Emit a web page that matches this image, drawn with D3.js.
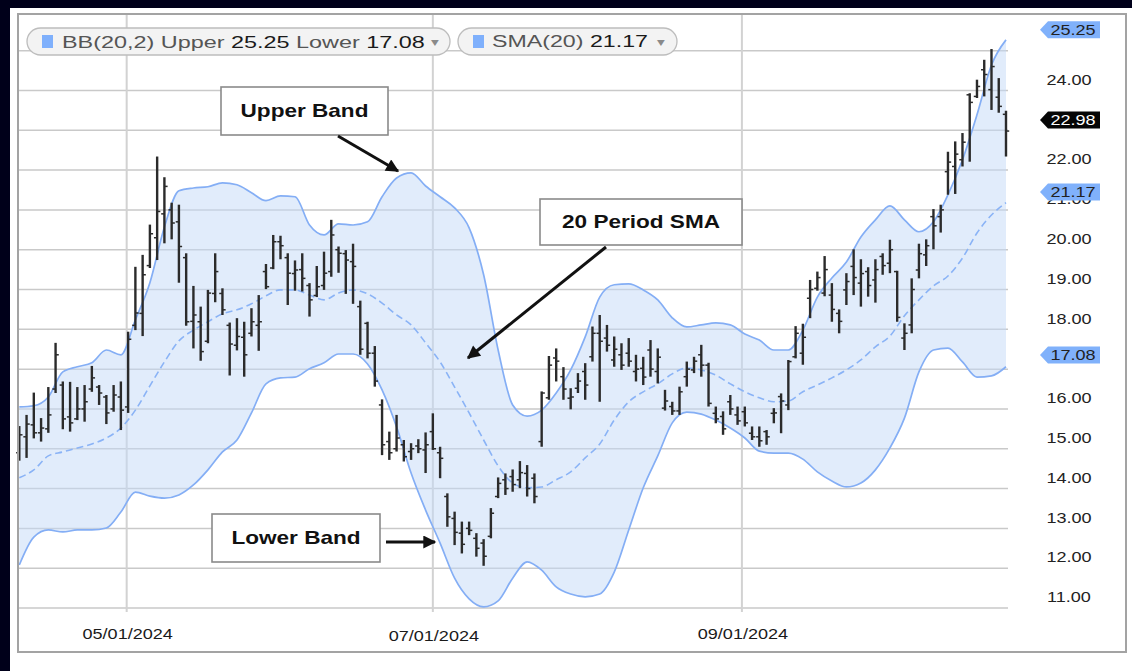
<!DOCTYPE html>
<html><head><meta charset="utf-8">
<script src="https://cdn.jsdelivr.net/npm/d3@7"></script>
<style>html,body{margin:0;padding:0;background:#fff;}svg{display:block;}</style>
</head><body>
<svg id="c" width="1132" height="671"></svg>
<script>
// ---------- DATA ----------
const highs = [15.57,15.85,16.41,15.77,16.55,17.66,16.69,16.68,16.55,16.60,
17.08,16.60,16.35,16.60,16.69,17.94,19.57,19.87,20.63,22.34,
21.82,21.18,21.13,19.91,19.09,18.57,18.99,19.91,19.03,18.17,
18.28,18.19,18.53,18.86,19.64,20.37,20.35,19.91,19.73,19.91,
19.16,19.59,19.95,20.75,20.08,19.99,20.15,18.72,18.19,17.58,
16.24,15.43,15.85,15.22,15.14,15.24,15.41,15.89,15.05,13.88,
13.42,13.17,13.17,12.88,12.73,13.51,14.28,14.38,14.48,14.69,
14.59,14.38,16.44,17.33,17.52,17.05,16.52,16.90,17.15,18.07,
18.36,18.11,17.82,17.65,17.78,17.36,17.31,17.73,17.52,16.48,
16.18,16.56,17.19,17.31,17.61,17.16,16.06,15.94,16.35,16.06,
16.06,15.56,15.56,15.47,16.02,16.39,17.23,18.08,18.14,19.24,
19.45,19.84,19.16,18.50,19.41,20.01,19.76,19.56,19.76,19.91,
20.25,19.47,18.15,19.28,20.15,20.26,21.02,21.13,22.46,22.72,
22.93,23.93,24.27,24.77,25.04,24.31,23.49];
const lows = [14.70,14.77,15.26,15.18,15.40,16.40,15.49,15.43,15.72,15.68,
16.43,16.10,15.62,15.93,15.47,15.90,17.98,17.83,19.54,19.74,
20.16,20.26,19.17,18.09,17.52,17.21,17.65,18.68,18.36,16.84,
17.47,16.81,17.82,17.46,19.01,19.51,19.76,18.61,18.97,18.95,
18.32,18.81,18.99,19.32,19.42,18.89,18.64,17.36,17.27,16.56,
14.84,14.72,14.93,14.68,14.72,14.89,14.39,14.97,14.26,13.04,
12.58,12.37,12.83,12.29,12.06,12.75,13.76,13.84,13.92,14.01,
13.80,13.63,15.05,16.23,16.69,16.23,15.99,16.40,16.23,17.19,
16.18,17.44,17.06,16.98,17.06,16.69,16.60,16.81,16.64,15.96,
15.85,15.85,16.56,16.90,16.81,16.06,15.64,15.35,15.85,15.60,
15.56,15.22,15.05,15.10,15.64,15.39,15.97,17.27,17.11,18.28,
18.97,18.83,18.19,17.90,18.61,18.86,18.57,18.82,18.67,19.37,
19.41,18.19,17.48,17.90,19.28,19.59,20.01,20.43,21.38,21.40,
22.09,22.21,23.81,23.85,23.51,23.44,22.34];
const opens = [14.90,15.30,15.60,15.40,15.50,16.50,16.60,15.80,15.75,16.00,
16.50,16.55,16.30,16.00,16.30,16.05,18.10,18.40,19.60,20.30,
20.90,21.00,20.70,19.80,18.20,18.19,17.70,18.90,18.90,18.10,
17.60,17.80,17.90,18.10,19.45,19.54,20.20,19.80,19.40,19.50,
19.10,18.85,19.10,19.45,20.00,19.90,19.70,18.57,18.15,17.40,
16.10,15.18,15.00,15.10,14.93,15.07,14.97,15.43,14.90,13.80,
13.25,12.88,13.00,12.75,12.63,12.80,13.80,14.22,14.30,14.22,
14.38,14.26,15.18,16.28,17.28,16.81,16.27,16.52,16.94,17.31,
17.90,17.78,17.23,17.36,17.40,16.94,17.02,17.48,16.94,16.02,
16.06,15.95,16.81,16.98,17.36,17.10,15.89,15.81,16.18,15.85,
15.93,15.39,15.30,15.43,15.89,16.31,16.10,17.31,17.40,18.78,
19.03,18.91,18.86,18.40,18.99,19.58,19.16,19.45,19.24,19.83,
19.66,19.45,17.78,18.11,19.49,19.87,20.83,20.83,21.96,22.09,
22.26,23.89,23.85,24.52,24.02,23.83,23.40];
const closes = [15.35,15.62,15.40,15.52,15.85,17.36,15.75,15.65,16.00,16.18,
16.78,16.40,15.90,16.35,15.97,17.75,18.41,19.37,20.40,20.96,
21.59,20.67,20.08,18.19,18.36,17.44,18.91,19.45,18.49,17.63,
17.82,17.36,18.19,18.19,19.07,20.20,20.10,19.41,19.49,19.28,
18.74,19.07,19.41,20.37,19.91,19.74,19.58,17.50,17.40,16.70,
15.10,14.90,15.27,14.80,15.00,15.00,15.10,15.00,14.76,13.29,
12.90,12.60,12.95,12.50,12.30,13.38,14.13,14.00,14.10,14.40,
14.00,13.80,16.40,17.10,17.20,16.50,16.30,16.70,16.60,17.90,
17.70,17.60,17.50,17.10,17.20,17.00,16.80,17.00,17.30,16.20,
15.95,16.43,17.00,17.20,17.10,16.14,15.75,15.50,16.00,15.70,
15.65,15.30,15.20,15.30,15.90,16.20,17.19,17.90,17.80,19.00,
19.30,19.50,18.50,18.20,19.20,19.30,19.40,19.10,19.50,19.60,
20.00,18.30,17.90,19.00,19.90,20.10,20.60,21.00,22.20,22.40,
22.70,23.70,24.10,24.40,24.60,23.60,22.98];

// Bollinger band readings, one every 2 bars
const bandStep = 2;
const upperBand = [16.05,16.08,16.30,16.93,17.06,17.16,17.48,17.36,18.24,19.17,
20.57,21.48,21.55,21.58,21.68,21.63,21.43,21.23,21.35,21.33,
20.62,20.37,20.65,20.62,20.70,21.33,21.80,21.93,21.60,21.33,
21.05,20.55,19.37,17.48,16.10,15.82,15.97,16.40,16.98,17.81,
18.81,19.12,19.14,18.99,18.74,18.29,18.06,18.11,18.16,18.11,
17.88,17.73,17.48,17.48,17.98,18.81,19.29,19.69,20.32,20.75,
21.10,20.75,20.45,20.70,21.38,22.26,23.39,24.64,25.27];
const smaLine = [14.27,14.47,14.82,14.92,15.02,15.12,15.27,15.52,15.97,16.58,
17.18,17.71,17.98,18.19,18.39,18.49,18.64,18.84,18.99,18.99,
18.86,18.74,18.91,18.99,18.89,18.66,18.36,18.11,17.66,17.18,
16.55,15.90,15.22,14.57,14.14,14.02,14.04,14.22,14.42,14.77,
15.12,15.72,16.18,16.43,16.63,16.88,17.03,16.98,16.85,16.63,
16.43,16.28,16.18,16.20,16.43,16.60,16.78,16.98,17.23,17.56,
17.83,18.34,18.74,19.09,19.34,19.79,20.42,20.87,21.18];
const lowerBand = [12.08,12.78,12.96,12.91,12.96,12.96,13.01,13.41,13.91,13.81,
13.76,13.84,14.09,14.47,14.92,15.22,15.90,16.63,16.78,16.80,
17.01,17.16,17.38,17.38,17.13,16.48,15.55,14.39,13.46,12.63,
11.75,11.23,11.03,11.18,11.75,12.16,11.95,11.53,11.35,11.28,
11.35,11.90,12.96,14.02,14.82,15.65,15.92,15.87,15.72,15.52,
15.27,14.94,14.89,14.89,14.74,14.42,14.19,14.04,14.14,14.47,
15.02,15.77,16.93,17.48,17.53,17.18,16.80,16.83,17.06];

const xTickIdx = [14.8, 57, 99.6];
const xTickLabels = ["05/01/2024", "07/01/2024", "09/01/2024"];
const yTickValues = [11,12,13,14,15,16,17,18,19,20,21,22,23,24,25];
// labels the source shows (the others sit under the price tags)
const yLabelValues = [11,12,13,14,15,16,18,19,20,21,22,24];
const tagValues = [25.25, 22.98, 21.17, 17.08];
const tagKinds = ["blue", "black", "blue", "blue"];
const legendBB = {name: "BB(20,2) Upper ", upper: "25.25", mid: " Lower ", lower: "17.08"};
const legendSMA = {name: "SMA(20) ", value: "21.17"};
const notes = ["Upper Band", "20 Period SMA", "Lower Band"];

// ---------- DRAW ----------
const SX = 1.29;
const FONT = "'Liberation Sans', Arial, sans-serif";
const svg = d3.select("#c");
const W = 1132, H = 671;
const plot = {l: 18, r: 1008, t: 14, b: 608};

const x = d3.scaleLinear().domain([0, highs.length - 1]).range([19.3, 1006]);
const y = d3.scaleLinear().domain([11, 25.92]).range([plot.b, plot.t]);

svg.append("rect").attr("width", W).attr("height", H).attr("fill", "#fff");
svg.append("rect").attr("x", 0).attr("y", 0).attr("width", W).attr("height", 8).attr("fill", "#00001a");
svg.append("rect").attr("x", 0).attr("y", 0).attr("width", 10).attr("height", H).attr("fill", "#00001a");

const defs = svg.append("defs");
defs.append("clipPath").attr("id", "pc").append("rect")
  .attr("x", plot.l).attr("y", plot.t).attr("width", plot.r - plot.l).attr("height", plot.b - plot.t);
defs.append("marker").attr("id", "ah").attr("viewBox", "0 0 10 10").attr("refX", 9).attr("refY", 5)
  .attr("markerWidth", 17).attr("markerHeight", 13).attr("markerUnits", "userSpaceOnUse").attr("orient", "auto")
  .append("path").attr("d", "M0,0 L10,5 L0,10 z").attr("fill", "#111");

// grid
const grid = svg.append("g");
grid.selectAll("line.h").data(yTickValues).join("line")
  .attr("x1", plot.l).attr("x2", plot.r).attr("y1", d => y(d)).attr("y2", d => y(d))
  .attr("stroke", "#c9c9c9").attr("stroke-width", 1.5);
grid.selectAll("line.v").data(xTickIdx).join("line")
  .attr("x1", d => x(d)).attr("x2", d => x(d)).attr("y1", plot.t).attr("y2", plot.b + 4)
  .attr("stroke", "#d2d2d2").attr("stroke-width", 2);

// bands
const bx = (d, i) => x(i * bandStep);
const bandData = upperBand.map((u, i) => ({u, m: smaLine[i], l: lowerBand[i]}));
const gb = svg.append("g").attr("clip-path", "url(#pc)");
gb.append("path").datum(bandData)
  .attr("d", d3.area().x(bx).y0(d => y(d.l)).y1(d => y(d.u)).curve(d3.curveMonotoneX))
  .attr("fill", "#c4d9f8").attr("fill-opacity", 0.5);
gb.append("path").datum(bandData)
  .attr("d", d3.line().x(bx).y(d => y(d.u)).curve(d3.curveMonotoneX))
  .attr("fill", "none").attr("stroke", "#84aef5").attr("stroke-width", 1.7);
gb.append("path").datum(bandData)
  .attr("d", d3.line().x(bx).y(d => y(d.l)).curve(d3.curveMonotoneX))
  .attr("fill", "none").attr("stroke", "#84aef5").attr("stroke-width", 1.7);
gb.append("path").datum(bandData)
  .attr("d", d3.line().x(bx).y(d => y(d.m)).curve(d3.curveMonotoneX))
  .attr("fill", "none").attr("stroke", "#8ab3f6").attr("stroke-width", 1.6).attr("stroke-dasharray", "7,4");

// OHLC bars
const bars = svg.append("g").attr("stroke", "#2b2b2b");
const idx = d3.range(highs.length);
bars.selectAll("line.hl").data(idx).join("line")
  .attr("x1", i => x(i)).attr("x2", i => x(i)).attr("y1", i => y(highs[i])).attr("y2", i => y(lows[i]))
  .attr("stroke-width", 2.4);
bars.selectAll("line.o").data(idx).join("line")
  .attr("x1", i => x(i) - 3.2).attr("x2", i => x(i)).attr("y1", i => y(opens[i])).attr("y2", i => y(opens[i]))
  .attr("stroke-width", 1.5);
bars.selectAll("line.c").data(idx).join("line")
  .attr("x1", i => x(i)).attr("x2", i => x(i) + 3.2).attr("y1", i => y(closes[i])).attr("y2", i => y(closes[i]))
  .attr("stroke-width", 1.5);

// frame
svg.append("rect").attr("x", plot.l).attr("y", plot.t).attr("width", 1126 - plot.l).attr("height", 652 - plot.t)
  .attr("fill", "none").attr("stroke", "#a3a3a3").attr("stroke-width", 2);

function stext(parent, px, py, str, o) {
  return parent.append("text")
    .attr("transform", `translate(${px},${py}) scale(${o.sx || SX},1)`)
    .attr("text-anchor", o.anchor || "middle").attr("dominant-baseline", "central")
    .attr("font-family", o.family || FONT).attr("font-size", o.size || 14)
    .attr("font-weight", o.weight || "normal").attr("fill", o.fill || "#222").text(str);
}

// right axis labels (drawn slightly above their gridlines, as in the source)
const ax = svg.append("g");
yLabelValues.forEach(v => stext(ax, 1069, y(v) - 11, v.toFixed(2), {size: 14, fill: "#222"}));
// x axis labels
xTickIdx.forEach((d, i) => stext(ax, x(d) + 1, i === 1 ? 636 : 634, xTickLabels[i], {size: 14, fill: "#1a1a1a"}));

// price tags
tagValues.forEach((v, i) => {
  const ty = y(v) - 11;
  const g = svg.append("g");
  const blue = tagKinds[i] === "blue";
  g.append("path").attr("d", `M1040,${ty} L1048,${ty - 8.5} L1100,${ty - 8.5} L1100,${ty + 8.5} L1048,${ty + 8.5} Z`)
    .attr("fill", blue ? "#80b1fb" : "#050505");
  stext(g, 1073, ty, v.toFixed(2), {size: 14, fill: blue ? "#222" : "#fff"});
});

// legend pills
function pill(px, w) {
  svg.append("rect").attr("x", px).attr("y", 28).attr("width", w).attr("height", 27).attr("rx", 13.5)
    .attr("fill", "#f3f3f3").attr("stroke", "#bdbdbd").attr("stroke-width", 1.3);
  svg.append("rect").attr("x", px + 15).attr("y", 35).attr("width", 11).attr("height", 13).attr("fill", "#7fb0fc");
}
function fitText(px, cy, parts, targetW) {
  const t = svg.append("text").attr("font-family", FONT).attr("font-size", 17)
    .attr("dominant-baseline", "central").attr("transform", `translate(${px},${cy})`);
  parts.forEach(p => t.append("tspan").attr("fill", p[1]).text(p[0]));
  const L = t.node().getComputedTextLength();
  t.attr("transform", `translate(${px},${cy}) scale(${targetW / L},1)`);
}
pill(27, 423);
fitText(62, 41.5, [[legendBB.name, "#555"], [legendBB.upper, "#1a1a1a"], [legendBB.mid, "#555"], [legendBB.lower, "#1a1a1a"]], 363);
stext(svg, 435, 41.5, "▾", {size: 12, fill: "#8a8a8a"});
pill(458, 219);
fitText(492, 41.5, [[legendSMA.name, "#555"], [legendSMA.value, "#1a1a1a"]], 156);
stext(svg, 661, 41.5, "▾", {size: 12, fill: "#8a8a8a"});

// annotations
const boxes = [
  {x0: 221, y0: 87, x1: 388, y1: 135},
  {x0: 540, y0: 199, x1: 742, y1: 245},
  {x0: 212, y0: 514, x1: 380, y1: 562}
];
const arrows = [
  [338, 136, 398, 171],
  [606, 247, 468, 358],
  [386, 542, 435, 542]
];
const ann = svg.append("g");
boxes.forEach((b, i) => {
  ann.append("rect").attr("x", b.x0).attr("y", b.y0).attr("width", b.x1 - b.x0).attr("height", b.y1 - b.y0)
    .attr("fill", "#fff").attr("stroke", "#8a8a8a").attr("stroke-width", 1.6);
  stext(ann, (b.x0 + b.x1) / 2, (b.y0 + b.y1) / 2, notes[i], {size: 17.5, weight: "bold", fill: "#111"});
});
arrows.forEach(a => {
  ann.append("line").attr("x1", a[0]).attr("y1", a[1]).attr("x2", a[2]).attr("y2", a[3])
    .attr("stroke", "#111").attr("stroke-width", 3).attr("marker-end", "url(#ah)");
});
</script>
</body></html>
